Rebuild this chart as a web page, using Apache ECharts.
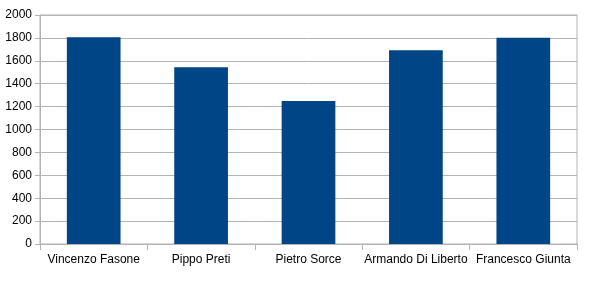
<!DOCTYPE html>
<html><head><meta charset="utf-8">
<script src="https://cdn.jsdelivr.net/npm/echarts@6/dist/echarts.min.js"></script>
<style>html,body{margin:0;padding:0;background:#fff}#c{width:592px;height:281px}</style>
</head><body><div id="c"></div>
<script>
const categories = ["Vincenzo Fasone","Pippo Preti","Pietro Sorce","Armando Di Liberto","Francesco Giunta"];
const values = [1805, 1543, 1249, 1692, 1802];
const chart = echarts.init(document.getElementById('c'), null, {renderer:'canvas'});
chart.setOption({
  animation:false,
  grid:{left:40,right:15,top:15,bottom:37,show:true,borderColor:'#b3b3b3',borderWidth:1,backgroundColor:'transparent'},
  xAxis:{type:'category',data:categories,
    axisLine:{lineStyle:{color:'#b3b3b3'}},
    axisTick:{show:true,length:6,lineStyle:{color:'#b3b3b3'}},
    axisLabel:{color:'#000',fontFamily:'Liberation Sans',fontSize:12,margin:10,interval:0}},
  yAxis:{type:'value',min:0,max:2000,interval:200,
    axisLine:{show:true,lineStyle:{color:'#b3b3b3'}},
    axisTick:{show:true,length:5,lineStyle:{color:'#b3b3b3'}},
    splitLine:{lineStyle:{color:'#b3b3b3'}},
    axisLabel:{color:'#000',fontFamily:'Liberation Sans',fontSize:12,margin:8,formatter:v=>String(v)}},
  series:[{type:'bar',data:values,barWidth:'50%',itemStyle:{color:'#004586'}}]
});
</script></body></html>
